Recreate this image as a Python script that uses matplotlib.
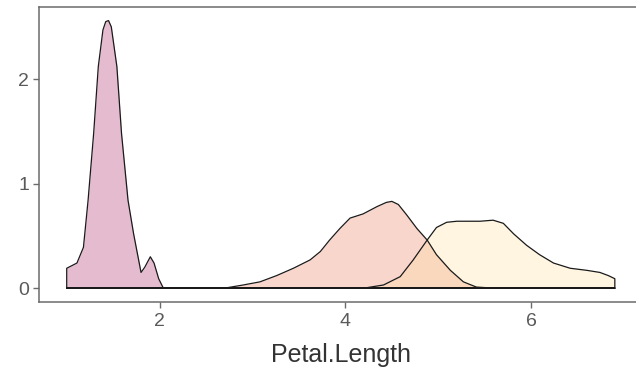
import matplotlib
matplotlib.use("Agg")
import matplotlib.pyplot as plt

plt.rcParams["font.family"] = ["Liberation Sans", "DejaVu Sans"]

# density curves (Petal.Length, density)
setosa_x = [1.0, 1.0, 1.11, 1.18, 1.23, 1.29, 1.34, 1.39, 1.42, 1.45, 1.48, 1.54,
            1.59, 1.66, 1.72, 1.80, 1.84, 1.90, 1.94, 1.99, 2.04, 6.9]
setosa_y = [0.0, 0.19, 0.24, 0.39, 0.84, 1.48, 2.12, 2.47, 2.55, 2.56, 2.50, 2.12,
            1.48, 0.84, 0.52, 0.15, 0.20, 0.30, 0.24, 0.09, 0.0, 0.0]

versicolor_x = [1.0, 2.70, 2.90, 3.08, 3.26, 3.44, 3.62, 3.73, 3.83, 3.94, 4.05,
                4.19, 4.34, 4.44, 4.50, 4.57, 4.66, 4.77, 4.88, 4.98, 5.13, 5.27,
                5.41, 5.60, 6.9]
versicolor_y = [0.0, 0.0, 0.03, 0.06, 0.12, 0.19, 0.27, 0.35, 0.46, 0.57, 0.67,
                0.71, 0.78, 0.82, 0.83, 0.80, 0.70, 0.57, 0.46, 0.32, 0.17, 0.06,
                0.01, 0.0, 0.0]

virginica_x = [1.0, 4.20, 4.41, 4.59, 4.73, 4.88, 4.98, 5.09, 5.20, 5.31, 5.45,
               5.59, 5.70, 5.81, 5.95, 6.09, 6.24, 6.42, 6.60, 6.74, 6.83, 6.90,
               6.90]
virginica_y = [0.0, 0.0, 0.03, 0.11, 0.27, 0.46, 0.58, 0.63, 0.64, 0.64, 0.64,
               0.65, 0.62, 0.52, 0.41, 0.32, 0.24, 0.19, 0.17, 0.15, 0.12, 0.09,
               0.0]

species = [
    (setosa_x, setosa_y, "#AC2066"),
    (versicolor_x, versicolor_y, "#EE7A58"),
    (virginica_x, virginica_y, "#FFDE9B"),
]

fig = plt.figure(figsize=(6.36, 3.73), dpi=100)
ax = fig.add_axes([0.0618, 0.190, 0.948, 0.791])

for xs, ys, col in species:
    ax.fill_between(xs, ys, 0, color=col, alpha=0.3, linewidth=0)
    ax.plot(xs + [xs[0]], ys + [0.0], color="#1a1a1a", linewidth=0.9)

ax.set_xlim(0.705, 7.195)
ax.set_ylim(-0.134, 2.689)
ax.set_xticks([2, 4, 6])
ax.set_yticks([0, 1, 2])
for s in ax.spines.values():
    s.set_color("#6b6b6b")
    s.set_linewidth(1.1)
ax.tick_params(colors="#6b6b6b", labelcolor="#5a5a5a", labelsize=14,
               length=4, width=1)
ax.set_xlabel("Petal.Length", fontsize=18, color="#333333", labelpad=10)

fig.savefig("out.png", dpi=100)
